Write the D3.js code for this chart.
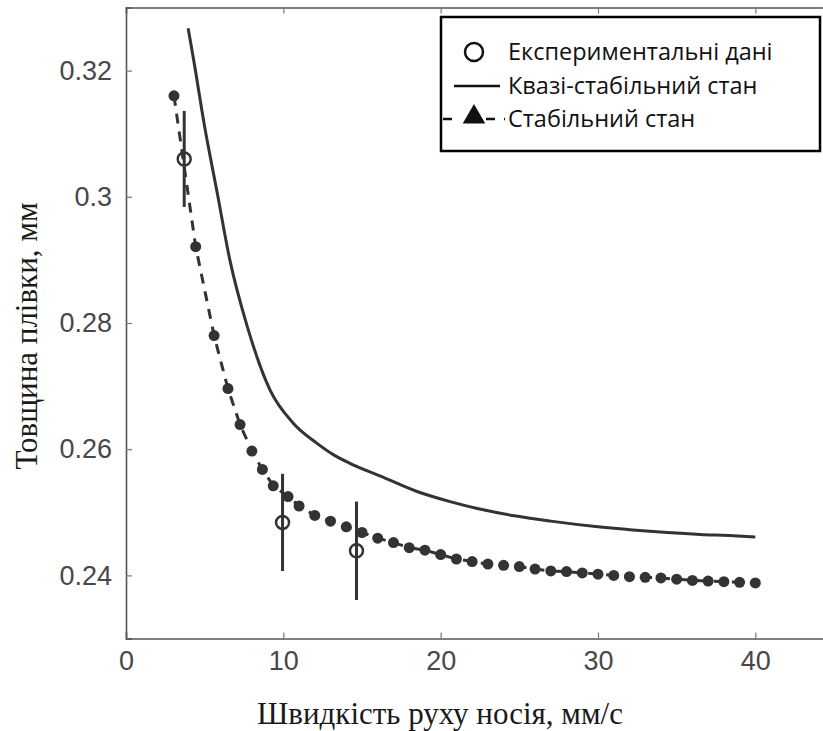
<!DOCTYPE html>
<html>
<head>
<meta charset="utf-8">
<script src="https://cdn.jsdelivr.net/npm/d3@7"></script>
<style>
  body { margin: 0; background: #fff; }
  svg { display: block; }
</style>
</head>
<body>
<div id="chart"></div>
<script>
// stable state (filled dots + dashed line)
const stableX = [3.05, 4.43, 5.6, 6.48, 7.25, 8.0, 8.67, 9.36, 10.3,
  11, 12, 13, 14, 15, 16, 17, 18, 19, 20, 21, 22, 23, 24, 25, 26, 27, 28,
  29, 30, 31, 32, 33, 34, 35, 36, 37, 38, 39, 40];
const stableY = [0.3160, 0.2921, 0.2780, 0.2696, 0.2639, 0.2597, 0.2568, 0.2542, 0.2525,
  0.2510, 0.2495, 0.2486, 0.2477, 0.2468, 0.2459, 0.2452, 0.2444, 0.2440, 0.2433, 0.2426,
  0.2422, 0.2418, 0.2416, 0.2414, 0.2410, 0.2407, 0.2406, 0.2404, 0.2402, 0.2400, 0.2398,
  0.2397, 0.2396, 0.2394, 0.2392, 0.2391, 0.2390, 0.2389, 0.2388];

// quasi-stable state (solid line)
const quasiX = [3.95, 4.3, 5.0, 5.8, 6.6, 7.7, 9.15, 10.6, 12.1, 13.2, 14.2, 16.4,
  18.5, 20.6, 22.7, 24.8, 27, 30, 32.2, 34.4, 36.5, 38.6, 40];
const quasiY = [0.3267, 0.3217, 0.3111, 0.3006, 0.2900, 0.2795, 0.2694, 0.2642, 0.2610,
  0.2591, 0.2578, 0.2555, 0.2533, 0.2517, 0.2504, 0.2494, 0.2486, 0.2477, 0.2472,
  0.2468, 0.2465, 0.2463, 0.2461];

// experimental data with error bars
const expX = [3.7, 9.95, 14.65];
const expY = [0.3060, 0.2484, 0.2439];
const expErr = [0.0076, 0.0077, 0.0078];

const xTicks = [0, 10, 20, 30, 40];
const yTicks = [0.24, 0.26, 0.28, 0.3, 0.32];

const legendLabels = ["Експериментальні дані", "Квазі-стабільний стан", "Стабільний стан"];

const width = 823;
const height = 731;
const ink = "#333";

const svg = d3.select("#chart")
  .append("svg")
  .attr("width", width)
  .attr("height", height);

const x = d3.scaleLinear().domain([0, 45]).range([126, 834]);
const y = d3.scaleLinear().domain([0.23, 0.33]).range([638.5, 7.5]);

// axes (inward ticks, box style)
const xAxis = d3.axisBottom(x).tickValues(xTicks).tickSize(-6).tickPadding(12)
  .tickFormat(d3.format("d"));
const yAxis = d3.axisLeft(y).tickValues(yTicks).tickSize(-6).tickPadding(14)
  .tickFormat(d => d3.format("")(+d.toFixed(2)));
const topAxis = d3.axisTop(x).tickValues(xTicks).tickSize(-6).tickFormat("");

function styleAxis(g) {
  g.select(".domain").attr("stroke", "#555").attr("stroke-width", 1.6);
  g.selectAll(".tick line").attr("stroke", "#777").attr("stroke-width", 1.2);
  g.selectAll(".tick text")
    .attr("fill", "#484848")
    .style("font-family", "'Liberation Sans', Arial, sans-serif")
    .style("font-size", "27px");
}

svg.append("g")
  .attr("transform", `translate(0,${y.range()[0]})`)
  .call(xAxis).call(styleAxis);
svg.append("g")
  .attr("transform", `translate(0,${y.range()[1]})`)
  .call(topAxis).call(styleAxis);
svg.append("g")
  .attr("transform", `translate(${x.range()[0]},0)`)
  .call(yAxis).call(styleAxis);

// axis titles
svg.append("text")
  .attr("x", 440)
  .attr("y", 724)
  .attr("text-anchor", "middle")
  .attr("fill", "#1a1a1a")
  .style("font-family", "'Liberation Serif', 'Times New Roman', serif")
  .style("font-size", "31px")
  .text("Швидкість руху носія, мм/с");

svg.append("text")
  .attr("transform", "translate(37,336) rotate(-90)")
  .attr("text-anchor", "middle")
  .attr("fill", "#1a1a1a")
  .style("font-family", "'Liberation Serif', 'Times New Roman', serif")
  .style("font-size", "31px")
  .text("Товщина плівки, мм");

// quasi-stable line
const quasi = quasiX.map((d, i) => [d, quasiY[i]]);
svg.append("path")
  .datum(quasi)
  .attr("fill", "none")
  .attr("stroke", ink)
  .attr("stroke-width", 3)
  .attr("d", d3.line().x(d => x(d[0])).y(d => y(d[1])).curve(d3.curveMonotoneX));

// stable dashed line + dots
const stable = stableX.map((d, i) => [d, stableY[i]]);
svg.append("path")
  .datum(stable)
  .attr("fill", "none")
  .attr("stroke", ink)
  .attr("stroke-width", 3)
  .attr("stroke-dasharray", "10,8")
  .attr("d", d3.line().x(d => x(d[0])).y(d => y(d[1])));

svg.append("g")
  .selectAll("circle")
  .data(stable)
  .join("circle")
  .attr("cx", d => x(d[0]))
  .attr("cy", d => y(d[1]))
  .attr("r", 5.5)
  .attr("fill", ink);

// experimental points
const exp = expX.map((d, i) => ({ x: d, y: expY[i], e: expErr[i] }));
svg.append("g")
  .selectAll("line")
  .data(exp)
  .join("line")
  .attr("x1", d => x(d.x))
  .attr("x2", d => x(d.x))
  .attr("y1", d => y(d.y + d.e))
  .attr("y2", d => y(d.y - d.e))
  .attr("stroke", ink)
  .attr("stroke-width", 3);

svg.append("g")
  .selectAll("circle")
  .data(exp)
  .join("circle")
  .attr("cx", d => x(d.x))
  .attr("cy", d => y(d.y))
  .attr("r", 6.5)
  .attr("fill", "none")
  .attr("stroke", ink)
  .attr("stroke-width", 2.5);

// legend
const legend = svg.append("g");
legend.append("rect")
  .attr("x", 441)
  .attr("y", 17)
  .attr("width", 379)
  .attr("height", 134)
  .attr("fill", "#fff")
  .attr("stroke", "#000")
  .attr("stroke-width", 2.5);

const rowY = [52, 86, 119];
legend.append("circle")
  .attr("cx", 474).attr("cy", rowY[0]).attr("r", 9)
  .attr("fill", "none").attr("stroke", "#111").attr("stroke-width", 2.5);
legend.append("line")
  .attr("x1", 454).attr("x2", 500).attr("y1", rowY[1]).attr("y2", rowY[1])
  .attr("stroke", "#111").attr("stroke-width", 2.5);
legend.append("line")
  .attr("x1", 443).attr("x2", 505).attr("y1", rowY[2]).attr("y2", rowY[2])
  .attr("stroke", "#111").attr("stroke-width", 2.5)
  .attr("stroke-dasharray", "9,34,9");
legend.append("path")
  .attr("d", d3.symbol().type(d3.symbolTriangle).size(220)())
  .attr("transform", `translate(474,${rowY[2] - 2})`)
  .attr("fill", "#111");

legend.selectAll("text.lbl")
  .data(legendLabels)
  .join("text")
  .attr("class", "lbl")
  .attr("x", 508)
  .attr("y", (d, i) => rowY[i])
  .attr("dy", "0.35em")
  .attr("fill", "#111")
  .style("font-family", "'Open Sans', 'Noto Sans', sans-serif")
  .style("font-size", "23.5px")
  .text(d => d);
</script>
</body>
</html>
